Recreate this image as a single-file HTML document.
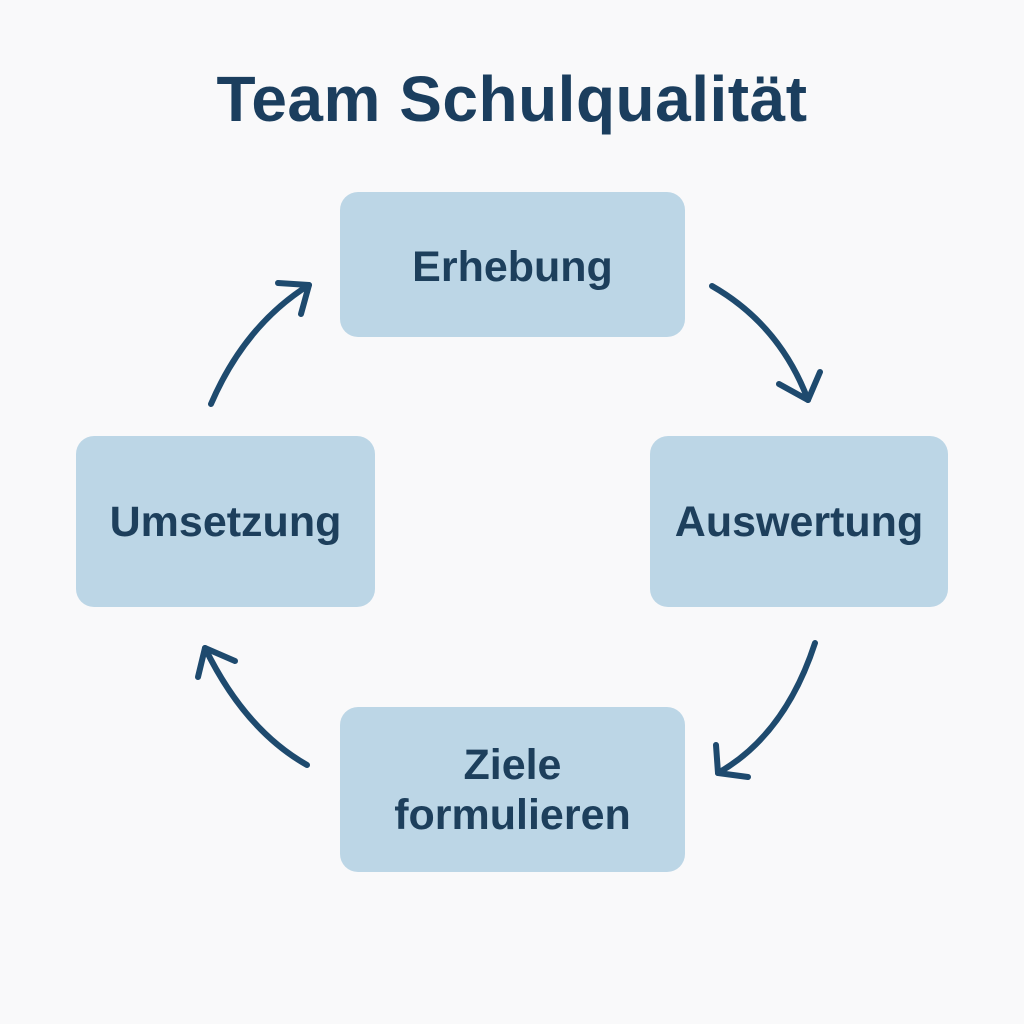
<!DOCTYPE html>
<html><head><meta charset="utf-8"><style>
body{margin:0;width:1024px;height:1024px;background:#f9f9fa;position:relative;font-family:"Liberation Sans","DejaVu Sans",sans-serif;overflow:hidden}
.t{position:absolute;left:0;width:1024px;top:62px;text-align:center;font-size:64px;font-weight:bold;color:#1b3e5e;letter-spacing:0.5px}
.b{position:absolute;background:#bcd6e6;border-radius:18px;display:flex;align-items:center;justify-content:center;text-align:center;color:#1d3f5c;font-size:43px;font-weight:bold;line-height:50px}
</style></head><body>
<div class="t">Team Schulqualität</div>
<div class="b" style="left:340px;top:192px;width:345px;height:145px;padding-top:4px;box-sizing:border-box">Erhebung</div>
<div class="b" style="left:650px;top:436px;width:298px;height:171px">Auswertung</div>
<div class="b" style="left:76px;top:436px;width:299px;height:171px">Umsetzung</div>
<div class="b" style="left:340px;top:707px;width:345px;height:165px">Ziele<br>formulieren</div>
<svg width="1024" height="1024" style="position:absolute;left:0;top:0" fill="none" stroke="#1e4a6e" stroke-width="6" stroke-linecap="round" stroke-linejoin="round">
<path d="M712 286 Q780 325 808 400"/><path d="M779 384 L808 400 L820 372"/>
<path d="M815 643 Q785 735 718 773"/><path d="M716 745 L718 773 L748 777"/>
<path d="M307 765 Q245 730 205 648"/><path d="M198 677 L205 648 L235 661"/>
<path d="M211 404 Q245 325 309 285"/><path d="M278 283 L309 285 L301 314"/>
</svg>
</body></html>
